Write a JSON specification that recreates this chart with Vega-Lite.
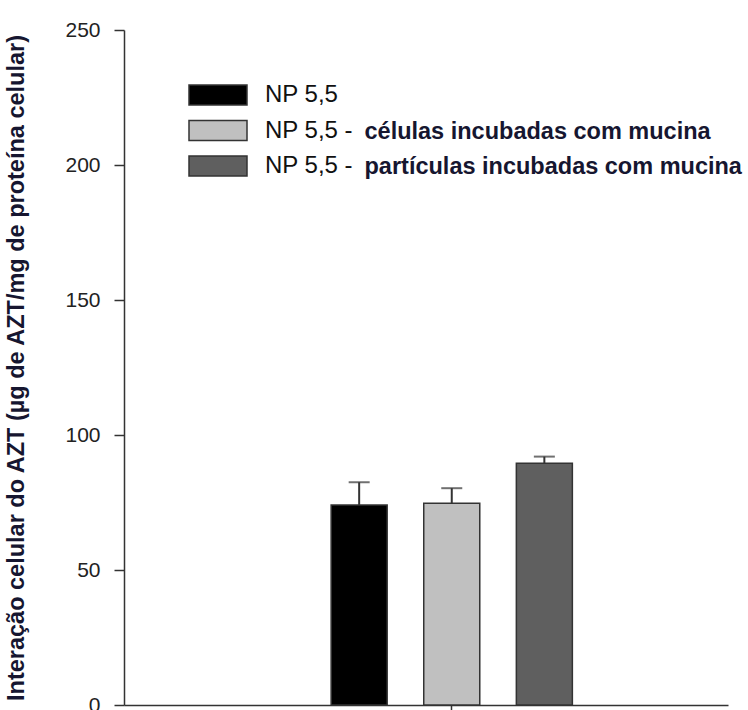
{
  "$schema": "https://vega.github.io/schema/vega-lite/v6.json",
  "width": 604,
  "height": 675,
  "autosize": {"type": "none"},
  "padding": {"left": 124, "top": 30, "right": 20, "bottom": 5},
  "background": "white",
  "config": {"view": {"stroke": null}, "font": "Liberation Sans"},
  "data": {
    "values": [
      {"grupo": "NP 5,5", "serie": "NP 5,5", "incubacao": "", "media": 74.1, "superior": 82.5},
      {"grupo": "NP 5,5", "serie": "NP 5,5 - células incubadas com mucina", "incubacao": "células incubadas com mucina", "media": 74.7, "superior": 80.3},
      {"grupo": "NP 5,5", "serie": "NP 5,5 - partículas incubadas com mucina", "incubacao": "partículas incubadas com mucina", "media": 89.5, "superior": 92.0}
    ]
  },
  "encoding": {
    "x": {
      "field": "grupo",
      "type": "nominal",
      "scale": {"paddingInner": 0, "paddingOuter": 0.752, "align": 0.571},
      "axis": {
        "labels": false,
        "title": null,
        "tickSize": 5,
        "tickColor": "#333",
        "tickWidth": 1.5,
        "domainColor": "#333",
        "domainWidth": 1.5
      }
    },
    "xOffset": {
      "field": "serie",
      "type": "nominal",
      "sort": null,
      "scale": {"paddingInner": 0.395, "paddingOuter": 0}
    }
  },
  "layer": [
    {
      "mark": {"type": "bar", "stroke": "#333", "strokeWidth": 1.5},
      "encoding": {
        "y": {
          "field": "media",
          "type": "quantitative",
          "scale": {"domain": [0, 250], "nice": false},
          "axis": {
            "title": "Interação celular do AZT (µg de AZT/mg de proteína celular)",
            "values": [0, 50, 100, 150, 200, 250],
            "grid": false,
            "domainColor": "#333",
            "domainWidth": 1.5,
            "tickColor": "#333",
            "tickWidth": 1.5,
            "tickSize": 10,
            "labelPadding": 14,
            "labelFontSize": 21,
            "labelColor": "#222",
            "titleFontSize": 23.5,
            "titleFontWeight": "bold",
            "titleColor": "#161630",
            "titleAngle": -90,
            "titleX": -108,
            "titleY": 337.5,
            "titleAlign": "center",
            "titleBaseline": "middle"
          }
        },
        "color": {
          "field": "serie",
          "type": "nominal",
          "sort": null,
          "scale": {"range": ["#000000", "#c0c0c0", "#5f5f5f"]},
          "legend": {
            "orient": "none",
            "legendX": 82,
            "legendY": 53,
            "title": null,
            "padding": 0,
            "symbolType": "M-2.9,-1H2.9V1H-2.9Z",
            "symbolSize": 400,
            "symbolStrokeColor": "#333",
            "symbolStrokeWidth": 1.5,
            "symbolOpacity": 1,
            "labelExpr": "datum.label == 'NP 5,5' ? 'NP 5,5' : 'NP 5,5 -'",
            "labelFontSize": 24,
            "labelColor": "#111",
            "labelOffset": 35,
            "labelLimit": 0,
            "rowPadding": 9.5
          }
        },
        "strokeDash": {
          "field": "incubacao",
          "type": "nominal",
          "sort": null,
          "scale": {"range": [[1, 0], [1, 0], [1, 0]]},
          "legend": {
            "orient": "none",
            "legendX": 217,
            "legendY": 55,
            "title": null,
            "padding": 0,
            "symbolSize": 0,
            "symbolOpacity": 0,
            "symbolStrokeWidth": 0,
            "labelFontSize": 23.5,
            "labelFontWeight": "bold",
            "labelColor": "#161630",
            "labelOffset": 0,
            "labelLimit": 0,
            "rowPadding": 10
          }
        }
      }
    },
    {
      "mark": {"type": "rule", "stroke": "#333", "strokeWidth": 2},
      "encoding": {
        "y": {"field": "media", "type": "quantitative", "title": "Interação celular do AZT (µg de AZT/mg de proteína celular)"},
        "y2": {"field": "superior"}
      }
    },
    {
      "mark": {"type": "tick", "size": 21, "thickness": 2, "color": "#333"},
      "encoding": {
        "y": {"field": "superior", "type": "quantitative", "title": "Interação celular do AZT (µg de AZT/mg de proteína celular)"}
      }
    }
  ]
}
